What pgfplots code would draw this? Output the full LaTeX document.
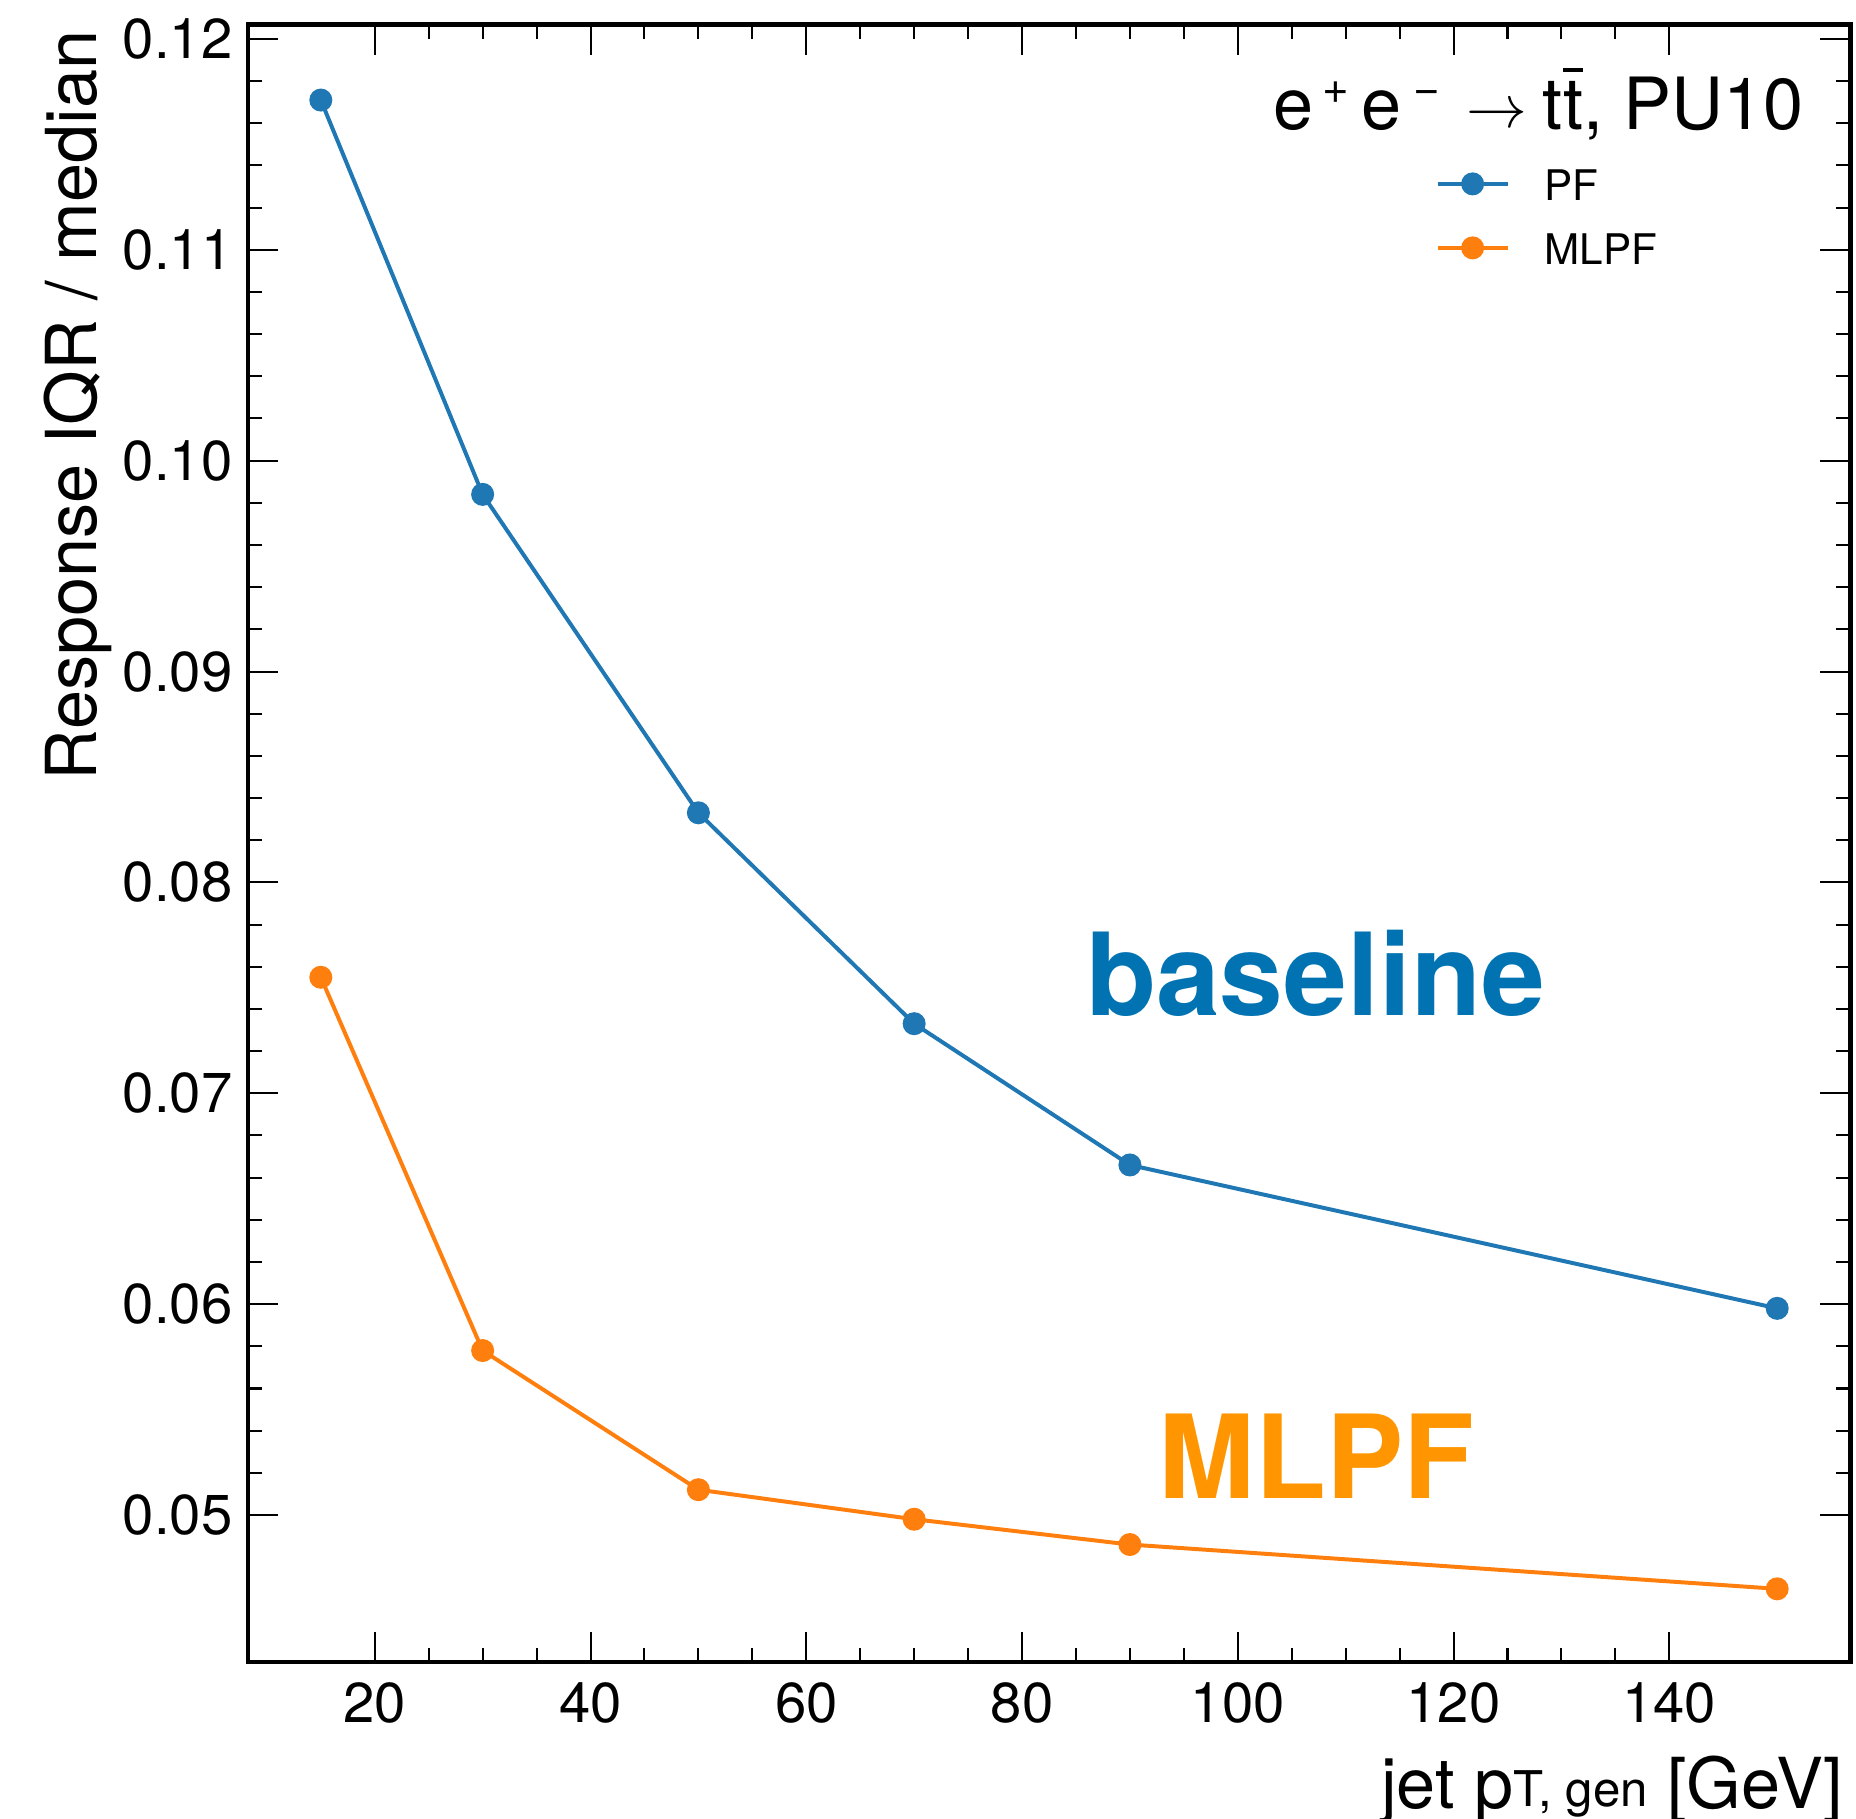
\documentclass[border=0pt]{standalone}
\usepackage{fontspec}
\setmainfont{TeX Gyre Heros}
\usepackage{pgfplots}
\pgfplotsset{compat=1.18}
\usetikzlibrary{calc}

\definecolor{pfblue}{HTML}{1F77B4}
\definecolor{mlpforange}{HTML}{FF7F0E}
\definecolor{bltext}{HTML}{0173B2}
\definecolor{mltext}{HTML}{FF9500}

\newcommand{\sups}[1]{\raisebox{0.26cm}{\fontsize{13}{15}\selectfont #1}}

\begin{document}
\begin{tikzpicture}
\begin{axis}[
  name=ax,
  width=16.02cm, height=16.37cm, scale only axis,
  xmin=8.25, xmax=156.75, ymin=0.04303, ymax=0.12066,
  xtick={20,40,60,80,100,120,140},
  ytick={0.05,0.06,0.07,0.08,0.09,0.10,0.11,0.12},
  minor x tick num=3, minor y tick num=4,
  scaled y ticks=false,
  /pgf/number format/assume math mode=true,
  y tick label style={/pgf/number format/fixed, /pgf/number format/fixed zerofill, /pgf/number format/precision=2},
  tick align=inside,
  major tick length=0.3cm, minor tick length=0.14cm,
  tick style={line width=0.57pt, black},
  axis line style={line width=1.42pt},
  tick label style={font=\fontsize{16}{19}\selectfont},
  xticklabel style={inner sep=0pt, yshift=-0.2cm},
  yticklabel style={inner sep=0pt, xshift=-0.15cm},
  legend cell align=left,
  legend style={at={(rel axis cs:0.7409,0.9113)}, anchor=north west,
    draw=none, fill=none, inner sep=0pt, row sep=0.34cm,
    font=\fontsize{12}{14}\selectfont,
    nodes={inner sep=0pt, text height=0.3cm, text depth=0pt},
    /tikz/every odd column/.append style={column sep=0.35cm}},
  legend image code/.code={\draw[#1, mark repeat=2, mark phase=2, yshift=0.02cm]
    plot coordinates {(0cm,0cm) (0.35cm,0cm) (0.70cm,0cm)};},
]
% PF
\addplot[pfblue, line width=1.13pt, mark=*, mark size=2.7pt, mark options={solid, fill=pfblue}]
  coordinates {(15,0.1171)(30,0.0984)(50,0.0833)(70,0.0733)(90,0.0666)(150,0.0598)};
\addlegendentry{PF}
% MLPF
\addplot[mlpforange, line width=1.13pt, mark=*, mark size=2.7pt, mark options={solid, fill=mlpforange}]
  coordinates {(15,0.0755)(30,0.0578)(50,0.0512)(70,0.0498)(90,0.0486)(150,0.0465)};
\addlegendentry{MLPF}

\node[anchor=base, inner sep=0pt, text=bltext, font=\fontsize{32.6}{38}\selectfont\bfseries]
  at (axis cs:107.2,0.0737) {baseline};
\node[anchor=base, inner sep=0pt, text=mltext, font=\fontsize{33}{38}\selectfont\bfseries]
  at (axis cs:107.3,0.05076) {MLPF};
\end{axis}

% process label
\node[anchor=base east, inner sep=0pt, font=\fontsize{20.5}{25}\selectfont]
  at ($(ax.north east)+(-0.46cm,-1.05cm)$)
  {e\hspace{0.09cm}\sups{+}\hspace{0.12cm}e\hspace{0.12cm}\sups{−}\hspace{0.26cm}\raisebox{0.02cm}{\fontsize{17.5}{20}\selectfont$\rightarrow$}\hspace{0.16cm}t\rlap{\raisebox{0.8em}{\rule{0.28em}{0.065em}}}t, PU10};

\node[rotate=90, anchor=base east, inner sep=0pt, font=\fontsize{20}{24}\selectfont]
  at ($(ax.north west)+(-1.51cm,-0.05cm)$) {Response IQR / median};
\node[anchor=base east, inner sep=0pt, font=\fontsize{20}{24}\selectfont]
  at ($(ax.south east)+(-0.06cm,-1.46cm)$)
  {jet p\raisebox{0.02cm}{\fontsize{14}{16}\selectfont T, gen} [GeV]};

\pgfresetboundingbox
\path[use as bounding box] ($(ax.south west)+(-2.48cm,-1.56cm)$) rectangle ($(ax.north east)+(0.06cm,0.25cm)$);
\end{tikzpicture}
\end{document}
